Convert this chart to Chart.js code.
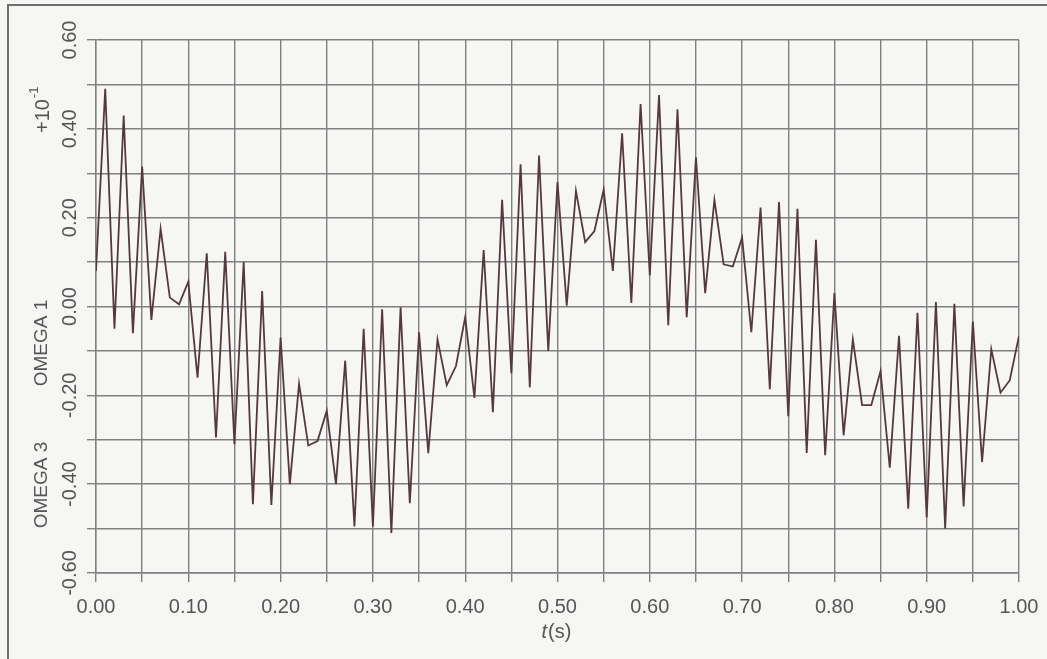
<!DOCTYPE html>
<html>
<head>
<meta charset="utf-8">
<title>OMEGA response</title>
<script src="https://cdn.jsdelivr.net/npm/chart.js@4.4.1/dist/chart.umd.min.js"></script>
<style>
    html, body { margin: 0; padding: 0; background: #f6f6f4; }
    #page { position: relative; width: 1047px; height: 659px; overflow: hidden; }
    #frame {
        position: absolute; left: 7px; top: 4px; right: -4px; bottom: -4px;
        border-top: 2px solid #6e6e6e; border-left: 2px solid #6e6e6e;
    }
    #wrap { position: absolute; left: 0; top: 0; width: 1047px; height: 659px; }
</style>
</head>
<body>
<div id="page">
    <div id="frame"></div>
    <div id="wrap"><canvas id="omegaChart"></canvas></div>
</div>
<script>
// time axis (s) - one sample every 0.01 s
const timeSteps = [
    0.00, 0.01, 0.02, 0.03, 0.04, 0.05, 0.06, 0.07, 0.08, 0.09,
    0.10, 0.11, 0.12, 0.13, 0.14, 0.15, 0.16, 0.17, 0.18, 0.19,
    0.20, 0.21, 0.22, 0.23, 0.24, 0.25, 0.26, 0.27, 0.28, 0.29,
    0.30, 0.31, 0.32, 0.33, 0.34, 0.35, 0.36, 0.37, 0.38, 0.39,
    0.40, 0.41, 0.42, 0.43, 0.44, 0.45, 0.46, 0.47, 0.48, 0.49,
    0.50, 0.51, 0.52, 0.53, 0.54, 0.55, 0.56, 0.57, 0.58, 0.59,
    0.60, 0.61, 0.62, 0.63, 0.64, 0.65, 0.66, 0.67, 0.68, 0.69,
    0.70, 0.71, 0.72, 0.73, 0.74, 0.75, 0.76, 0.77, 0.78, 0.79,
    0.80, 0.81, 0.82, 0.83, 0.84, 0.85, 0.86, 0.87, 0.88, 0.89,
    0.90, 0.91, 0.92, 0.93, 0.94, 0.95, 0.96, 0.97, 0.98, 0.99,
    1.00
];

// OMEGA 3 - OMEGA 1 (x 10^-1)
const omegaDiff = [
    0.08, 0.49, -0.05, 0.43, -0.06, 0.315, -0.03, 0.175, 0.02, 0.005,
    0.056, -0.16, 0.12, -0.295, 0.123, -0.31, 0.10, -0.445, 0.035, -0.447,
    -0.07, -0.40, -0.174, -0.313, -0.303, -0.235, -0.40, -0.122, -0.495, -0.05,
    -0.495, -0.006, -0.51, -0.002, -0.443, -0.058, -0.33, -0.074, -0.177, -0.134,
    -0.024, -0.206, 0.127, -0.238, 0.24, -0.15, 0.32, -0.182, 0.34, -0.10,
    0.28, 0.002, 0.26, 0.145, 0.17, 0.263, 0.08, 0.39, 0.008, 0.456,
    0.07, 0.476, -0.042, 0.444, -0.024, 0.336, 0.03, 0.24, 0.095, 0.09,
    0.155, -0.058, 0.223, -0.186, 0.235, -0.247, 0.22, -0.33, 0.15, -0.335,
    0.03, -0.29, -0.074, -0.222, -0.222, -0.146, -0.363, -0.066, -0.455, -0.014,
    -0.475, 0.01, -0.50, 0.006, -0.45, -0.034, -0.35, -0.096, -0.194, -0.166,
    -0.066
];

// axis ranges / steps
const xRange = [0, 1];
const xGridStep = 0.05;
const yRange = [-0.6, 0.6];
const yGridStep = 0.1;

// axis texts
const xTitle = ['t', '(s)'];
const yTitles = ['OMEGA 3', 'OMEGA 1'];
const yMultiplier = ['+10', '-1'];

const FONT = '"Liberation Sans", Arial, Helvetica, sans-serif';
const TEXT_COLOR = '#555555';
const GRID_COLOR = '#808080';

(function () {
    'use strict';

    function fmt(v) {
        if (Math.abs(v) < 1e-9) return '0.00';
        return v.toFixed(2);
    }

    // axis titles drawn by hand: rotated, italic t, superscript exponent
    const axisTitles = {
        id: 'axisTitles',
        afterDraw(chart) {
            const ctx = chart.ctx;
            ctx.save();
            ctx.fillStyle = TEXT_COLOR;

            // t(s)
            ctx.textBaseline = 'middle';
            ctx.textAlign = 'left';
            ctx.font = 'italic 20px ' + FONT;
            const tW = ctx.measureText(xTitle[0]).width;
            ctx.font = '20px ' + FONT;
            const sW = ctx.measureText(xTitle[1]).width;
            const x0 = 556 - (tW + sW) / 2;
            ctx.font = 'italic 20px ' + FONT;
            ctx.fillText(xTitle[0], x0, 632);
            ctx.font = '20px ' + FONT;
            ctx.fillText(xTitle[1], x0 + tW + 1, 632);

            // rotated y titles
            ctx.save();
            ctx.translate(42, 0);
            ctx.rotate(-Math.PI / 2);
            ctx.textAlign = 'center';
            ctx.font = '19px ' + FONT;
            ctx.fillText(yTitles[0], -485, 0);
            ctx.fillText(yTitles[1], -343, 0);

            // +10^-1
            ctx.font = '20px ' + FONT;
            ctx.textAlign = 'left';
            const baseW = ctx.measureText(yMultiplier[0]).width;
            ctx.fillText(yMultiplier[0], -133, 1);
            ctx.font = '13px ' + FONT;
            ctx.fillText(yMultiplier[1], -133 + baseW + 1, -8);
            ctx.restore();

            ctx.restore();
        }
    };

    function init() {
        const ctx = document.getElementById('omegaChart');
        const points = timeSteps.map((t, i) => ({ x: t, y: omegaDiff[i] }));

        new Chart(ctx, {
            type: 'line',
            data: {
                datasets: [{
                    label: 'OMEGA 3 - OMEGA 1',
                    data: points,
                    borderColor: '#563840',
                    borderWidth: 1.8,
                    pointRadius: 0,
                    tension: 0,
                    fill: false
                }]
            },
            options: {
                responsive: true,
                maintainAspectRatio: false,
                animation: false,
                layout: { padding: { left: 0, right: 28, top: 40, bottom: 0 } },
                plugins: {
                    legend: { display: false },
                    tooltip: { enabled: false }
                },
                scales: {
                    x: {
                        type: 'linear',
                        min: xRange[0],
                        max: xRange[1],
                        grid: { color: GRID_COLOR, lineWidth: 1.4, tickLength: 9, tickColor: GRID_COLOR },
                        border: { display: true, color: GRID_COLOR, width: 1.4 },
                        ticks: {
                            stepSize: xGridStep,
                            autoSkip: false,
                            maxRotation: 0,
                            padding: 13,
                            color: TEXT_COLOR,
                            font: { family: FONT, size: 20 },
                            callback: v => (Math.round(v * 100) % 10 === 0 ? fmt(v) : '')
                        },
                        afterFit: scale => {
                            scale.height = 86;
                            // labels fit inside the layout padding, no extra room needed
                            scale.paddingLeft = 0;
                            scale.paddingRight = 0;
                        }
                    },
                    y: {
                        min: yRange[0],
                        max: yRange[1],
                        grid: { color: GRID_COLOR, lineWidth: 1.4, tickLength: 9, tickColor: GRID_COLOR },
                        border: { display: true, color: GRID_COLOR, width: 1.4 },
                        ticks: {
                            stepSize: yGridStep,
                            autoSkip: false,
                            minRotation: 90,
                            maxRotation: 90,
                            crossAlign: 'center',
                            padding: -6,
                            color: TEXT_COLOR,
                            font: { family: FONT, size: 20 },
                            callback: v => (Math.round(v * 10) % 2 === 0 ? fmt(v) : '')
                        },
                        afterFit: scale => {
                            scale.width = 96;
                            scale.paddingTop = 0;
                            scale.paddingBottom = 0;
                        }
                    }
                }
            },
            plugins: [axisTitles]
        });
    }

    document.addEventListener('DOMContentLoaded', init);
})();
</script>
</body>
</html>
